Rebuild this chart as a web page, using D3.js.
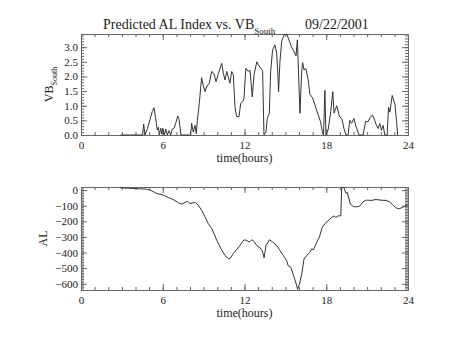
<!DOCTYPE html>
<html><head><meta charset="utf-8">
<script src="https://cdn.jsdelivr.net/npm/d3@7"></script>
<style>
html,body{margin:0;padding:0;background:#fff;}
text{font-family:"Liberation Serif","DejaVu Serif",serif;fill:#222;}
</style></head>
<body>
<svg id="c" width="454" height="341"></svg>
<script>
// ---- data ----
const xTicks = [0, 6, 12, 18, 24];
const vbTicks = [0.0, 0.5, 1.0, 1.5, 2.0, 2.5, 3.0];
const alTicks = [0, -100, -200, -300, -400, -500, -600];

const vbHours = [2.9,4.52,4.6,4.69,4.89,5.06,5.23,5.36,5.48,5.6,5.68,5.75,5.85,5.93,6.0,6.12,6.22,6.34,6.46,6.58,6.7,6.83,6.95,7.1,7.2,7.34,8.05,8.12,8.24,8.37,8.46,8.54,8.68,8.85,8.97,9.1,9.22,9.42,9.59,9.76,9.91,10.08,10.2,10.33,10.45,10.57,10.7,10.8,10.93,11.06,11.18,11.3,11.42,11.6,11.72,11.87,11.96,12.1,12.27,12.4,12.57,12.7,12.9,13.0,13.2,13.33,13.43,13.58,13.67,13.82,13.92,14.06,14.23,14.36,14.43,14.5,14.6,14.73,14.9,15.1,15.26,15.46,15.63,15.78,15.88,15.98,16.07,16.2,16.27,16.37,16.5,16.67,16.8,17.0,17.15,17.4,17.57,17.72,17.8,17.9,17.98,18.15,18.33,18.48,18.57,18.77,18.97,19.14,19.3,19.45,19.6,19.73,19.86,20.03,20.2,20.4,20.7,20.9,21.07,21.24,21.39,21.56,21.68,21.8,21.93,22.05,22.17,22.3,22.47,22.57,22.67,22.84,23.04,23.16,23.24];
const vbSouth = [0,0,0.37,0,0.23,0.52,0.8,0.93,0.57,0.17,0.26,0,0.23,0.03,0.23,0,0.2,0,0.15,0,0.2,0.23,0.4,0.65,0.52,0,0,0.4,0.1,0.33,0.05,0.5,1.07,1.96,1.7,1.48,1.65,1.77,2.17,2.1,1.82,2.1,2.27,2.45,2.1,1.88,2.17,2.0,1.77,2.17,2.06,0.97,0.63,0.63,1.08,1.14,1.25,2.28,2.17,2.22,1.3,2.05,2.5,2.4,2.28,2.2,0,0.1,0.57,0.74,2.17,2.9,3.08,2.8,2.28,1.48,2.5,3.2,3.42,3.45,3.25,3.0,2.85,2.7,3.25,1.93,0.74,2.2,2.47,2.22,2.27,1.9,1.39,1.27,1.05,0.7,0.47,0.1,0,1.52,0,0.2,0.8,1.48,0.75,1.0,0.63,0.56,0.22,0,0,0.5,0.4,0.56,0.27,0,0,0.47,0.45,0.62,0.68,0.5,0.33,0.22,0.39,0.16,0.33,0,0,0.95,0.78,1.35,1.05,0.47,0];

const alHours = [2.86,3.5,4.2,4.82,5.18,5.55,6.04,6.4,6.77,7.14,7.4,7.64,7.8,8.0,8.24,8.4,8.6,8.85,9.1,9.34,9.59,9.76,9.96,10.15,10.33,10.57,10.82,10.94,11.18,11.43,11.67,11.97,12.16,12.36,12.53,12.7,12.9,13.14,13.3,13.44,13.58,13.83,14.07,14.37,14.6,14.85,15.1,15.2,15.4,15.6,15.8,15.9,16.03,16.2,16.37,16.57,16.8,16.93,17.06,17.25,17.5,17.7,17.9,18.15,18.4,18.57,18.7,18.88,19.07,19.13,19.3,19.45,19.55,19.77,20.0,20.2,20.45,20.7,20.94,21.3,21.67,22.04,22.4,22.65,22.9,23.15,23.35,23.65,23.95];
const alIndex = [15,12,9,6,-4,-21,-32,-47,-60,-81,-90,-79,-71,-86,-81,-79,-96,-128,-171,-214,-246,-278,-321,-353,-385,-418,-439,-438,-407,-381,-353,-318,-323,-333,-318,-329,-355,-370,-387,-434,-355,-318,-333,-355,-387,-419,-452,-484,-495,-548,-602,-636,-602,-540,-441,-419,-398,-376,-383,-344,-300,-240,-215,-195,-175,-165,-175,-165,-165,18,15,-20,-15,-90,-106,-107,-103,-75,-64,-66,-60,-65,-66,-75,-97,-115,-120,-108,-95];

// ---- drawing ----
const svg = d3.select("#c");
svg.append("rect").attr("width",454).attr("height",341).attr("fill","#fff");

const L = 81, R = 408;
const x = d3.scaleLinear().domain([0,24]).range([L,R]);

function panel(top, bottom, yDomain, majors, minorStep, fmt, xs, ys, ylabelFn) {
  const y = d3.scaleLinear().domain(yDomain).range([bottom, top]);
  const g = svg.append("g");
  const minorsY = d3.range(Math.ceil(yDomain[0]/minorStep), Math.floor(yDomain[1]/minorStep)+1).map(k => +(k*minorStep).toFixed(6));
  const minorsX = d3.range(0, 25, 1);
  const axStyle = sel => {
    sel.selectAll("path.domain").attr("stroke","#666");
    sel.selectAll("line").attr("stroke","#666");
    sel.selectAll("text").attr("font-size","11px").attr("fill","#222")
       .attr("font-family","'Liberation Serif','DejaVu Serif',serif");
  };
  // bottom
  g.append("g").attr("transform",`translate(0,${bottom})`)
    .call(d3.axisBottom(x).tickValues(minorsX).tickSize(-3).tickSizeOuter(0).tickFormat("")).call(axStyle);
  g.append("g").attr("transform",`translate(0,${bottom})`)
    .call(d3.axisBottom(x).tickValues(xTicks).tickSize(-6).tickSizeOuter(0).tickPadding(6).tickFormat(d3.format("d"))).call(axStyle);
  // top
  g.append("g").attr("transform",`translate(0,${top})`)
    .call(d3.axisTop(x).tickValues(minorsX).tickSize(-3).tickSizeOuter(0).tickFormat("")).call(axStyle);
  g.append("g").attr("transform",`translate(0,${top})`)
    .call(d3.axisTop(x).tickValues(xTicks).tickSize(-6).tickSizeOuter(0).tickFormat("")).call(axStyle);
  // left
  g.append("g").attr("transform",`translate(${L},0)`)
    .call(d3.axisLeft(y).tickValues(minorsY).tickSize(-3).tickSizeOuter(0).tickFormat("")).call(axStyle);
  g.append("g").attr("transform",`translate(${L},0)`)
    .call(d3.axisLeft(y).tickValues(majors).tickSize(-6).tickSizeOuter(0).tickPadding(3).tickFormat(fmt)).call(axStyle);
  // right
  g.append("g").attr("transform",`translate(${R},0)`)
    .call(d3.axisRight(y).tickValues(minorsY).tickSize(-3).tickSizeOuter(0).tickFormat("")).call(axStyle);
  g.append("g").attr("transform",`translate(${R},0)`)
    .call(d3.axisRight(y).tickValues(majors).tickSize(-6).tickSizeOuter(0).tickFormat("")).call(axStyle);

  const line = d3.line().x((d,i)=>x(xs[i])).y(d=>y(d));
  g.append("path").datum(ys).attr("d", line).attr("fill","none")
    .attr("stroke","#333").attr("stroke-width",1);

  // x label
  g.append("text").attr("x",(L+R)/2).attr("y",bottom+27).attr("text-anchor","middle")
    .attr("font-size","12px").text("time(hours)");
  ylabelFn(g, (top+bottom)/2);
  return y;
}

panel(34, 135, [0, 3.45], vbTicks, 0.1, d3.format(".1f"), vbHours, vbSouth, (g, cy) => {
  const t = g.append("text").attr("transform",`translate(53,${cy}) rotate(-90)`)
    .attr("text-anchor","middle").attr("font-size","12px");
  t.append("tspan").text("VB");
  t.append("tspan").attr("font-size","8px").attr("dy","4").text("South");
});

panel(187, 290, [-640, 20], alTicks, 10, d3.format("d"), alHours, alIndex, (g, cy) => {
  g.append("text").attr("transform",`translate(47,${cy}) rotate(-90)`)
    .attr("text-anchor","middle").attr("font-size","12px").text("AL");
});

// title
const title = svg.append("text").attr("x",103).attr("y",29).attr("font-size","14px");
title.append("tspan").text("Predicted AL Index vs. VB");
title.append("tspan").attr("font-size","9px").attr("dy","5").text("South");
title.append("tspan").attr("x",305).attr("y",29).text("09/22/2001");
</script>
</body></html>
